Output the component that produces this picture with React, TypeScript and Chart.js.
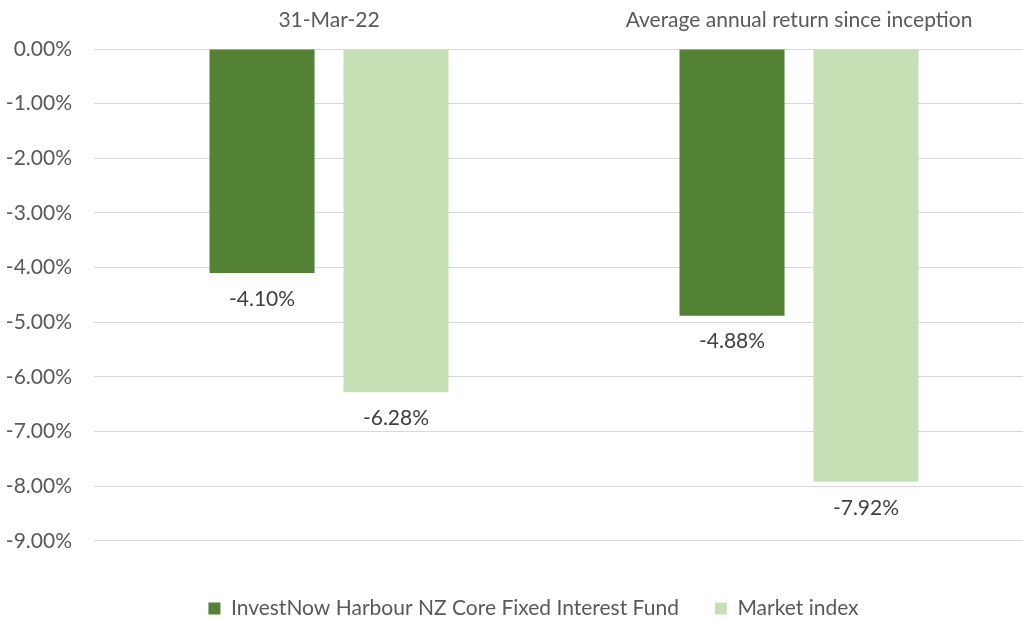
import React, { useEffect, useRef } from 'react';
import { Chart, registerables } from 'chart.js';

Chart.register(...registerables);

const categories = ['31-Mar-22', 'Average annual return since inception'];
const seriesNames = ['InvestNow Harbour NZ Core Fixed Interest Fund', 'Market index'];
const fundValues = [-4.10, -4.88];
const indexValues = [-6.28, -7.92];
const yMin = -9;
const yMax = 0;
const yStep = 1;

const FONT = 'Lato';
const FS = 21;
const TEXT = '#595959';
const LABEL = '#404040';

const dataLabels = {
  id: 'dataLabels',
  afterDatasetsDraw(chart: any) {
    const ctx = chart.ctx;
    ctx.save();
    ctx.font = `${FS}px ${FONT}`;
    ctx.fillStyle = LABEL;
    ctx.textAlign = 'center';
    ctx.textBaseline = 'middle';
    chart.data.datasets.forEach((ds: any, i: number) => {
      const meta = chart.getDatasetMeta(i);
      meta.data.forEach((bar: any, j: number) => {
        const v = ds.data[j] as number;
        ctx.fillText(v.toFixed(2) + '%', bar.x, bar.y + 26);
      });
    });
    ctx.restore();
  },
};

export default function App() {
  const ref = useRef<HTMLCanvasElement>(null);
  useEffect(() => {
    const chart = new Chart(ref.current!, {
      type: 'bar',
      data: {
        labels: categories,
        datasets: [
          { label: seriesNames[0], data: fundValues, backgroundColor: '#548235', borderWidth: 0 },
          { label: seriesNames[1], data: indexValues, backgroundColor: '#C5E0B4', borderWidth: 0 },
        ],
      },
      options: {
        responsive: false,
        animation: false,
        layout: { padding: 0 },
        datasets: { bar: { categoryPercentage: 0.57, barPercentage: 0.784 } },
        plugins: {
          legend: {
            position: 'bottom',
            title: { display: true, text: '', font: { size: 1 }, padding: { top: 20, bottom: 0 } },
            labels: {
              boxWidth: 12,
              boxHeight: 12,
              padding: 36,
              color: TEXT,
              font: { family: FONT, size: FS },
            },
          },
          tooltip: { enabled: false },
        },
        scales: {
          x: {
            position: 'top',
            grid: { display: false, drawTicks: false },
            border: { display: false },
            ticks: { color: TEXT, font: { family: FONT, size: FS }, padding: 16 },
            afterFit: (s: any) => { s.height = 49; },
          },
          y: {
            min: yMin,
            max: yMax,
            grid: { color: '#d9d9d9', drawTicks: false, lineWidth: 1 },
            border: { display: false },
            ticks: {
              stepSize: yStep,
              color: TEXT,
              padding: 22,
              font: { family: FONT, size: FS },
              callback: (v: any) => Number(v).toFixed(2) + '%',
            },
            afterFit: (s: any) => { s.width = 94; },
          },
          yRight: {
            type: 'linear',
            position: 'right',
            min: yMin,
            max: yMax,
            grid: { display: false, drawTicks: false },
            border: { display: false },
            ticks: { display: false },
            afterFit: (s: any) => { s.width = 33; },
          },
        },
      },
      plugins: [dataLabels],
    });
    return () => chart.destroy();
  }, []);
  return (
    <div style={{ position: 'fixed', left: 0, top: 0, width: 1023, height: 621, overflow: 'hidden', background: '#fff' }}>
      <canvas ref={ref} width={1067} height={629} style={{ display: 'block' }} />
    </div>
  );
}
